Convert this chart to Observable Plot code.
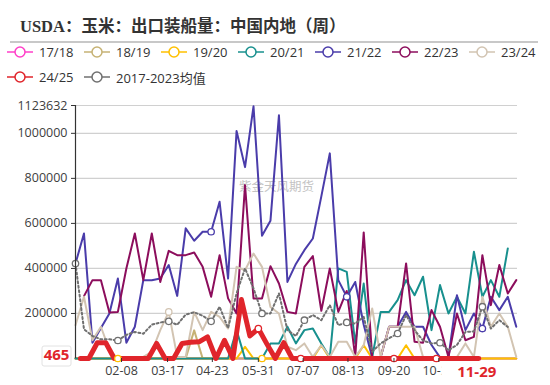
<!DOCTYPE html>
<html><head><meta charset="utf-8">
<script src="https://cdn.jsdelivr.net/npm/d3@7"></script>
<script src="https://cdn.jsdelivr.net/npm/@observablehq/plot@0.6"></script>
<style>
body{margin:0;background:#fff;font-family:"Open Sans","Noto Sans CJK SC",sans-serif;}
#wrap{position:relative;width:550px;height:385px;overflow:hidden;background:#fff;}
#title{position:absolute;left:20px;top:13px;font-weight:bold;font-size:16.5px;font-family:"Liberation Serif","Noto Sans CJK SC",serif;color:#333;white-space:nowrap;}
#rule{position:absolute;left:10px;top:41px;width:528px;height:2px;background:#c8c8c8;}
#legend{position:absolute;left:0;top:43px;width:550px;height:40px;}
.item{position:absolute;display:flex;align-items:center;font-size:13px;color:#333;white-space:nowrap;}
.item svg{margin-right:6px;}
#chart{position:absolute;left:0;top:80px;}
</style></head>
<body><div id="wrap">
<div id="title">USDA：玉米：出口装船量：中国内地（周）</div>
<div id="rule"></div>
<div id="legend"></div>
<div id="chart"></div>
</div>
<script>
const titleText = "USDA：玉米：出口装船量：中国内地（周）";
const seriesNames = ["17/18","18/19","19/20","20/21","21/22","22/23","23/24","24/25","2017-2023均值"];
const seriesColors = ["#ff3fc8","#c6b274","#ffc000","#18908e","#4a3caa","#8c0d5c","#d2c4b2","#e0252b","#707070"];
// weekly values, first point on the given start date (MM-DD), one point per week
const startDay = {"17/18":"01-01","18/19":"01-01","19/20":"01-01","20/21":"01-01","21/22":"01-01","22/23":"01-01","23/24":"01-01","24/25":"01-05","2017-2023均值":"01-01"};
const s1718 = [0,0,0,0,0,0,0,0,0,0,0,0,0,0,0,0,0,0,0,0,0,0,0,0,0,0,0,0,0,0,0,0,0,0,0,0,0,0,0,0,0,0,0,0,0,0,0,0,0,0,0,0,0];
const s1819 = [0,0,0,0,0,0,0,0,0,0,0,0,0,0,125000,0,0,0,0,0,0,0,0,0,0,0,0,0,0,0,0,0,0,0,0,0,0,0,0,0,0,0,0,0,0,0,0,0,0,0,0,0,0];
const s1920 = [0,0,0,0,0,0,0,0,0,0,0,0,0,0,0,0,0,0,0,0,52000,0,0,0,0,0,0,0,0,59000,0,0,0,0,59000,0,0,0,0,59000,0,0,0,0,0,0,0,0,0,0,0,0,0];
const s2021 = [0,0,0,0,0,0,0,0,0,0,0,0,0,0,0,0,0,0,0,126000,0,0,0,67000,67000,141000,67000,126000,133000,67000,5000,400000,385000,67000,333000,5000,207000,207000,259000,348000,281000,363000,126000,326000,200000,274000,200000,474000,274000,348000,274000,489000,null];
const s2122 = [422000,555000,70000,135000,200000,355000,70000,141000,348000,348000,355000,415000,278000,578000,523000,563000,563000,696000,355000,1010000,850000,1120000,545000,612000,1080000,340000,420000,481000,533000,720000,911000,348000,274000,340000,150000,5000,7000,141000,141000,207000,141000,141000,60000,5000,5000,281000,126000,200000,133000,274000,215000,274000,141000];
const s2223 = [null,277000,348000,348000,204000,207000,400000,555000,348000,555000,340000,478000,459000,459000,471000,407000,274000,459000,267000,200000,770000,267000,267000,410000,333000,207000,200000,407000,455000,212000,400000,207000,300000,7000,560000,7000,7000,141000,141000,422000,74000,70000,215000,141000,7000,200000,81000,96000,459000,237000,415000,289000,348000];
const s2324 = [148000,274000,81000,141000,37000,0,0,0,7000,30000,126000,207000,7000,7000,207000,126000,207000,185000,133000,407000,392000,466000,407000,229000,200000,52000,37000,67000,7000,59000,7000,74000,74000,7000,59000,222000,7000,141000,141000,141000,141000,7000,7000,7000,7000,7000,67000,7000,274000,141000,200000,141000,7000];
const s2425 = [0,0,70000,70000,0,0,0,0,0,67000,0,0,67000,72000,74000,96000,0,81000,0,262000,100000,133000,65000,0,70000,0,0,0,0,0,0,0,0,0,0,0,0,0,0,0,0,0,0,0,0,0,0,465];
const sMean = [422000,130000,100000,85000,85000,80000,105000,118000,110000,150000,160000,165000,150000,195000,205000,190000,165000,230000,135000,289000,400000,311000,200000,200000,289000,126000,100000,170000,193000,170000,237000,148000,160000,155000,185000,30000,67000,90000,111000,193000,126000,80000,67000,70000,37000,60000,118000,120000,230000,133000,170000,140000];
const seriesValues = [s1718,s1819,s1920,s2021,s2122,s2223,s2324,s2425,sMean];
const yTicks = [200000,400000,600000,800000,1000000,1123632];
const yMax = 1123632;
const xTickLabels = ["02-08","03-17","04-23","05-31","07-07","08-13","09-20","10-27"];
const latestValueLabel = "465";
const latestDateLabel = "11-29";
const watermark = "紫金天风期货";
const markerTicks = {
  "19/20":["02-08","05-31"],
  "21/22":["04-23","08-13","12-03"],
  "23/24":["03-17"],
  "24/25":["05-31","07-07","09-20","10-27"],
  "2017-2023均值":["01-01","02-08","03-17","04-23","05-31","07-07","08-13","09-20","10-27","12-03"]
};

const toDate = md => new Date("2024-" + md + "T00:00:00Z");
const colorOf = Object.fromEntries(seriesNames.map((n,i)=>[n,seriesColors[i]]));

// legend
const leg = document.getElementById("legend");
seriesNames.forEach((n,i)=>{
  const row = Math.floor(i/7), col = i%7;
  const d = document.createElement("div");
  d.className = "item";
  d.style.left = (7 + col*77) + "px";
  d.style.top = (row*25) + "px";
  d.style.height = "18px";
  d.innerHTML = `<svg width="26" height="14"><line x1="0" x2="26" y1="7" y2="7" stroke="${colorOf[n]}" stroke-width="1.5"/><circle cx="13" cy="7" r="5" fill="#fff" stroke="${colorOf[n]}" stroke-width="1.5"/></svg><span>${n}</span>`;
  leg.appendChild(d);
});

// long data
const rows = [];
seriesNames.forEach((n,i)=>{
  const s0 = toDate(startDay[n]);
  seriesValues[i].forEach((v,k)=>{
    rows.push({series:n, date:d3.utcDay.offset(s0, 7*k), value:v});
  });
});
const markers = [];
for (const [n, ticks] of Object.entries(markerTicks)) {
  const pts = rows.filter(r=>r.series===n && r.value!=null);
  for (const t of ticks) {
    const td = toDate(t);
    const best = d3.least(pts, p=>Math.abs(p.date - td));
    if (best) markers.push(best);
  }
}

const lineMarks = seriesNames.map(n=>{
  const data = rows.filter(r=>r.series===n);
  const opts = {x:"date", y:"value", stroke:colorOf[n], strokeWidth:2, defined:d=>d.value!=null, curve:"linear"};
  if (n==="24/25") { opts.strokeWidth = 5; opts.strokeLinejoin="round"; }
  if (n==="2017-2023均值") { opts.strokeWidth = 2; opts.strokeDasharray = "2,2.5"; }
  return Plot.line(data, opts);
});

const xStart = toDate("01-01"), xEnd = toDate("12-31");

function overlay(index, scales, values, dimensions) {
  const g = d3.create("svg:g");
  const x = scales.x, y = scales.y;
  const y0 = y(0);
  // value label at y = 0
  g.append("rect").attr("x", 42).attr("y", y0-12).attr("width", 29).attr("height", 20)
    .attr("rx", 2).attr("fill", "#fff").attr("stroke", "#e2e2e2");
  g.append("text").attr("x", 56.5).attr("y", y0-2).attr("text-anchor","middle").attr("dominant-baseline","middle")
    .attr("fill","#e0252b").attr("font-weight","bold").attr("font-size",15).attr("font-family","Open Sans, sans-serif").text(latestValueLabel);
  const xd = x(toDate(latestDateLabel));
  g.append("rect").attr("x", xd-37).attr("y", y0+3).attr("width", 68).attr("height", 24).attr("fill","#fff");
  g.append("text").attr("x", xd-1.5).attr("y", y0+15).attr("text-anchor","middle").attr("dominant-baseline","middle")
    .attr("fill","#e0252b").attr("font-weight","bold").attr("font-size",15).attr("font-family","Open Sans, sans-serif").text(latestDateLabel);
  return g.node();
}

const chart = Plot.plot({
  width: 550, height: 305,
  marginLeft: 75, marginRight: 33, marginTop: 25, marginBottom: 27,
  style: {fontFamily: "Open Sans, sans-serif", fontSize: "12.5px", color:"#404040", background:"transparent"},
  x: {type:"utc", domain:[xStart, xEnd], axis:null},
  y: {domain:[0, yMax], axis:null},
  marks: [
    Plot.gridY(yTicks, {stroke:"#d0d0d0", strokeOpacity:1, strokeWidth:1.2}),
    Plot.ruleY([0], {stroke:"#d6d6d6"}),
    Plot.text([watermark], {x:()=>toDate("06-15"), y:()=>760000, text:d=>d, fill:"#c4c4c4", fontSize:12.5, fontFamily:"Noto Sans CJK SC"}),
    ...lineMarks,
    Plot.dot(markers, {x:"date", y:"value", r:3.2, fill:"#fff", stroke:d=>colorOf[d.series], strokeWidth:1.3}),
    Plot.ruleX([xStart], {y1:0, y2:yMax, stroke:"#333", strokeWidth:1.2}),
    Plot.axisY(yTicks, {anchor:"left", label:null, tickSize:4, tickPadding:4, tickFormat:d3.format("d"), fill:"#404040", stroke:"#333", fontSize:12.5}),
    Plot.axisX(xTickLabels.map(toDate), {anchor:"bottom", label:null, tickSize:4, tickPadding:4, tickFormat:d3.utcFormat("%m-%d"), fill:"#404040", stroke:"#333", fontSize:12.5}),
    overlay
  ]
});
document.getElementById("chart").appendChild(chart);
</script>
</body></html>
